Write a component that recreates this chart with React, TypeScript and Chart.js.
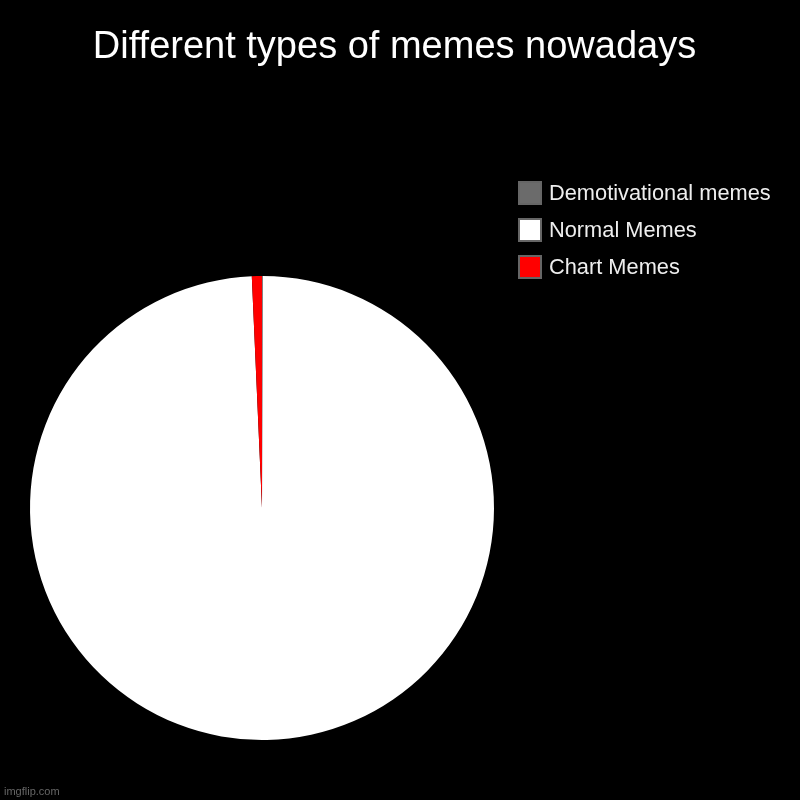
import React, { useEffect, useRef } from "react";
import { Chart, registerables } from "chart.js";

Chart.register(...registerables);

const TITLE = "Different types of memes nowadays";
const categories = ["Demotivational memes", "Normal Memes", "Chart Memes"];
const values = [0.05, 99.25, 0.7];
const colors = ["#6b6b6b", "#ffffff", "#ff0000"];
const WATERMARK = "imgflip.com";

const FONT = "'Liberation Sans', Arial, sans-serif";

const overlayPlugin = {
  id: "overlay",
  beforeDraw(chart: any) {
    const ctx = chart.ctx;
    ctx.save();
    ctx.fillStyle = "#000";
    ctx.fillRect(0, 0, chart.width, chart.height);
    ctx.restore();
  },
  afterDraw(chart: any) {
    const ctx = chart.ctx;
    ctx.save();
    // title
    ctx.fillStyle = "#ffffff";
    ctx.font = `38px ${FONT}`;
    ctx.textAlign = "center";
    ctx.textBaseline = "middle";
    ctx.fillText(TITLE, 394.5, 48);

    // legend
    const labels: string[] = chart.data.labels;
    const bg: string[] = chart.data.datasets[0].backgroundColor;
    ctx.font = `21.8px ${FONT}`;
    ctx.textAlign = "left";
    labels.forEach((label, i) => {
      const y = 181 + i * 37;
      ctx.fillStyle = bg[i];
      ctx.fillRect(518, y, 24, 24);
      ctx.strokeStyle = "#666666";
      ctx.lineWidth = 2;
      ctx.strokeRect(519, y + 1, 22, 22);
      ctx.fillStyle = "#eeeeee";
      ctx.fillText(label, 549, y + 13);
    });

    // watermark
    ctx.fillStyle = "#666666";
    ctx.font = `11px ${FONT}`;
    ctx.textBaseline = "alphabetic";
    ctx.fillText(WATERMARK, 4, 795);
    ctx.restore();
  },
};

export default function App() {
  const ref = useRef<HTMLCanvasElement>(null);
  useEffect(() => {
    if (!ref.current) return;
    const chart = new Chart(ref.current, {
      type: "pie",
      data: {
        labels: categories,
        datasets: [
          {
            data: values,
            backgroundColor: colors,
            borderColor: "#ffffff",
            borderWidth: 0,
          },
        ],
      },
      options: {
        animation: false,
        responsive: false,
        maintainAspectRatio: false,
        layout: { padding: { top: 276, left: 30, right: 306, bottom: 60 } },
        plugins: {
          legend: { display: false },
          title: { display: false },
          tooltip: { enabled: false },
        },
      },
      plugins: [overlayPlugin],
    });
    return () => chart.destroy();
  }, []);
  return (
    <div style={{ position: "fixed", left: 0, top: 0, width: 800, height: 800, background: "#000" }}>
      <canvas ref={ref} width={800} height={800} style={{ width: 800, height: 800 }} />
    </div>
  );
}
